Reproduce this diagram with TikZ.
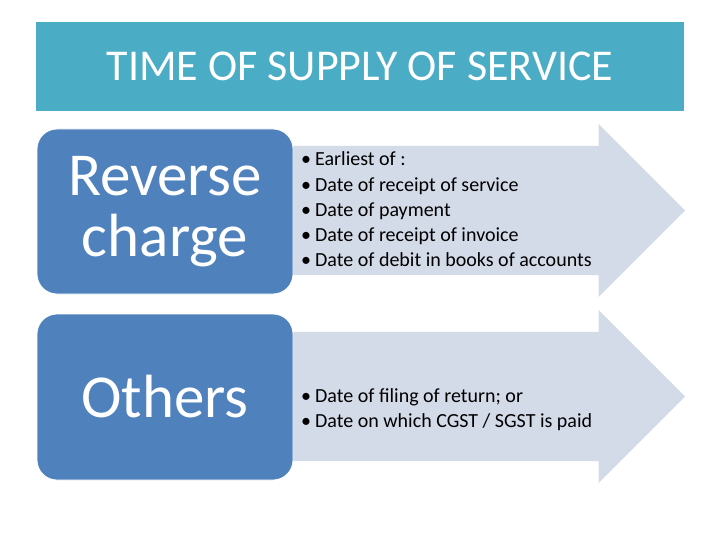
\documentclass[tikz,border=0pt]{standalone}
\usepackage{fontspec}
\setmainfont{Carlito}
\usetikzlibrary{shapes.arrows,positioning}
\definecolor{sea}{RGB}{75,172,198}
\definecolor{steel}{RGB}{79,129,189}
\definecolor{mist}{RGB}{212,219,232}
\tikzset{
  band/.style={fill=sea,text=white,minimum width=648pt,minimum height=89pt,
    font=\fontsize{44}{50}\selectfont},
  kind/.style={fill=steel,draw=white,thick,rounded corners=20pt,text=white,
    minimum width=256pt,minimum height=#1,align=center,inner sep=0pt,
    font=\fontsize{61}{61}\selectfont},
  kind/.default=165pt,
  span/.style={single arrow,fill=mist,single arrow head extend=22pt,
    text height=64.5pt,text depth=64.5pt,text width=0pt,
    minimum height=405pt,inner sep=0pt,anchor=tail},
  pts/.style={anchor=west,align=left,inner sep=0pt,font=\fontsize{20}{25.3}\selectfont},
}
\newcommand{\pt}[1]{\makebox[14pt][l]{\textbullet}#1}
\begin{document}
\begin{tikzpicture}[x=1pt,y=-1pt]
  \useasboundingbox (0,0) rectangle (720,540);
  \node[band] (title) at (360,66.5) {TIME OF SUPPLY OF SERVICE};
  % arrows sit under the boxes
  \node[span] (arrRC) at (280,210.5) {};
  \node[span] (arrOT) at (280,396.5) {};
  \node[kind] (rc) at (165,211.5) {Reverse\\charge};
  \node[kind=166pt] (ot) at (165,397) {Others};
  \node[pts] (ptsRC) at (301,209.5) {\pt{Earliest of :}\\\pt{Date of receipt of service}\\\pt{Date of payment}\\\pt{Date of receipt of invoice}\\\pt{Date of debit in books of accounts}};
  \node[pts] (ptsOT) at (301,409.5) {\pt{Date of filing of return; or}\\\pt{Date on which CGST / SGST is paid}};
\end{tikzpicture}
\end{document}
